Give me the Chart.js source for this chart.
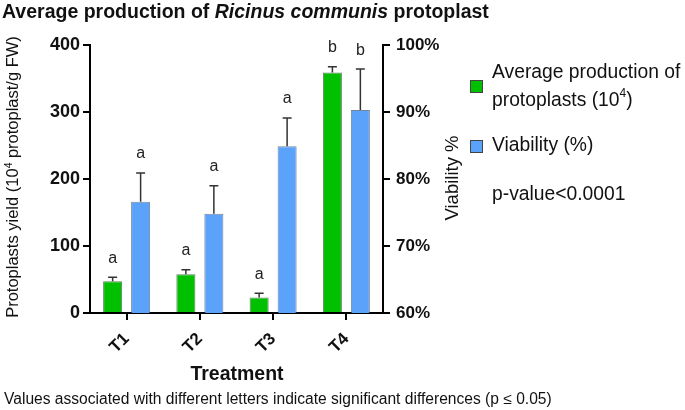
<!DOCTYPE html>
<html>
<head>
<meta charset="utf-8">
<script src="https://cdn.jsdelivr.net/npm/chart.js@4.4.1/dist/chart.umd.min.js"></script>
<style>
html,body{margin:0;padding:0;background:#fff;}
#wrap{width:685px;height:410px;position:relative;}
</style>
</head>
<body>
<div id="wrap"><canvas id="c" width="685" height="410"></canvas></div>
<script>
// ---- data ----
const categories = ['T1', 'T2', 'T3', 'T4'];
const yieldMean = [47.5, 58, 23, 359];
const yieldErr = [6, 6.5, 6.5, 8.5];
const viabilityMean = [76.6, 74.8, 84.9, 90.3];
const viabilityErr = [4.3, 4.2, 4.2, 6.1];
const yieldLetters = ['a', 'a', 'a', 'b'];
const viabilityLetters = ['a', 'a', 'a', 'b'];
const yieldTicks = [0, 100, 200, 300, 400];
const viabilityTicks = [60, 70, 80, 90, 100];
const seriesNames = ['Average production of', 'Viability (%)'];

const FONT = '"Liberation Sans", Arial, Helvetica, sans-serif';
const GREEN = '#00C000';
const BLUE = '#5AA2FA';

function drawSupText(ctx, parts, x, y, size, weight) {
  let cx = x;
  for (const [t, sup] of parts) {
    const s = sup ? size * 0.62 : size;
    ctx.font = `${weight} ${s}px ${FONT}`;
    ctx.fillText(t, cx, sup ? y - size * 0.38 : y);
    cx += ctx.measureText(t).width;
  }
  return cx - x;
}
function measureSup(ctx, parts, size, weight) {
  let w = 0;
  for (const [t, sup] of parts) {
    const s = sup ? size * 0.62 : size;
    ctx.font = `${weight} ${s}px ${FONT}`;
    w += ctx.measureText(t).width;
  }
  return w;
}

const extras = {
  id: 'extras',
  afterDatasetsDraw(chart) {
    const ctx = chart.ctx;
    const errs = [yieldErr, viabilityErr];
    const means = [yieldMean, viabilityMean];
    const letters = [yieldLetters, viabilityLetters];
    chart.data.datasets.forEach((ds, di) => {
      const meta = chart.getDatasetMeta(di);
      const sc = chart.scales[ds.yAxisID];
      meta.data.forEach((el, i) => {
        const top = sc.getPixelForValue(means[di][i] + errs[di][i]);
        ctx.save();
        ctx.strokeStyle = '#333';
        ctx.lineWidth = 1.5;
        ctx.beginPath();
        ctx.moveTo(el.x, el.y);
        ctx.lineTo(el.x, top);
        ctx.moveTo(el.x - 4.5, top);
        ctx.lineTo(el.x + 4.5, top);
        ctx.stroke();
        ctx.fillStyle = '#222';
        ctx.font = `16px ${FONT}`;
        ctx.textAlign = 'center';
        ctx.textBaseline = 'middle';
        ctx.fillText(letters[di][i], el.x, top - 19);
        ctx.restore();
      });
    });
  },
  afterDraw(chart) {
    const ctx = chart.ctx;
    ctx.save();
    ctx.fillStyle = '#111';
    ctx.textBaseline = 'alphabetic';
    ctx.textAlign = 'left';
    // title
    let x = 2;
    const ty = 18;
    ctx.font = `bold 19.5px ${FONT}`;
    ctx.fillText('Average production of ', x, ty);
    x += ctx.measureText('Average production of ').width;
    ctx.font = `italic bold 19.5px ${FONT}`;
    ctx.fillText('Ricinus communis', x, ty);
    x += ctx.measureText('Ricinus communis').width;
    ctx.font = `bold 19.5px ${FONT}`;
    ctx.fillText(' protoplast', x, ty);

    // left axis title
    const lparts = [['Protoplasts yield (10', false], ['4', true], [' protoplast/g FW)', false]];
    const lw = measureSup(ctx, lparts, 16.5, 'normal');
    ctx.save();
    ctx.translate(18, 177);
    ctx.rotate(-Math.PI / 2);
    drawSupText(ctx, lparts, -lw / 2, 0, 16.5, 'normal');
    ctx.restore();

    // right axis title
    ctx.save();
    ctx.translate(458, 178);
    ctx.rotate(-Math.PI / 2);
    ctx.font = `18.5px ${FONT}`;
    ctx.textAlign = 'center';
    ctx.fillText('Viability %', 0, 0);
    ctx.restore();

    // x axis title
    ctx.font = `bold 19.5px ${FONT}`;
    ctx.textAlign = 'center';
    ctx.fillText('Treatment', 237, 380);

    // footer
    ctx.font = `15.6px ${FONT}`;
    ctx.textAlign = 'left';
    ctx.fillText('Values associated with different letters indicate significant differences (p \u2264 0.05)', 4, 404);

    // legend
    ctx.lineWidth = 1;
    ctx.fillStyle = GREEN;
    ctx.fillRect(470, 80, 13, 13);
    ctx.strokeStyle = '#444';
    ctx.strokeRect(470.5, 80.5, 12, 12);
    ctx.fillStyle = BLUE;
    ctx.fillRect(470, 140, 13, 13);
    ctx.strokeRect(470.5, 140.5, 12, 12);
    ctx.fillStyle = '#111';
    ctx.textBaseline = 'middle';
    ctx.font = `19.3px ${FONT}`;
    ctx.fillText(seriesNames[0], 492, 73);
    drawSupText(ctx, [['protoplasts (10', false], ['4', true], [')', false]], 492, 101, 19.3, 'normal');
    ctx.font = `19.3px ${FONT}`;
    ctx.fillText(seriesNames[1], 492, 146);
    ctx.fillText('p-value<0.0001', 492, 195);
    ctx.restore();
  }
};

new Chart(document.getElementById('c'), {
  type: 'bar',
  data: {
    labels: categories,
    datasets: [
      {
        label: seriesNames[0],
        data: yieldMean,
        yAxisID: 'y',
        backgroundColor: GREEN,
        borderColor: 'rgba(60,90,60,0.8)',
        borderWidth: 1,
        categoryPercentage: 0.764,
        barPercentage: 0.68
      },
      {
        label: seriesNames[1],
        data: viabilityMean,
        yAxisID: 'y2',
        backgroundColor: BLUE,
        borderColor: 'rgba(80,100,130,0.8)',
        borderWidth: 1,
        categoryPercentage: 0.764,
        barPercentage: 0.68
      }
    ]
  },
  options: {
    responsive: false,
    animation: false,
    layout: { padding: { top: 45, left: 0, right: 0, bottom: 0 } },
    plugins: { legend: { display: false }, tooltip: { enabled: false }, title: { display: false } },
    scales: {
      x: {
        type: 'category',
        offset: true,
        grid: { display: true, drawOnChartArea: false, drawTicks: true, tickLength: 7, color: '#000', lineWidth: 2, offset: false },
        border: { display: true, color: '#000', width: 2 },
        ticks: { color: '#111', font: { family: FONT, size: 17, weight: 'bold' }, minRotation: 45, maxRotation: 45, padding: 9 },
        afterFit(s) { s.height = 97; }
      },
      y: {
        position: 'left',
        min: 0, max: 400,
        afterBuildTicks(s) { s.ticks = yieldTicks.map(v => ({ value: v })); },
        grid: { display: true, drawOnChartArea: false, drawTicks: true, tickLength: 7, color: '#000', lineWidth: 2 },
        border: { display: true, color: '#000', width: 2 },
        ticks: { color: '#111', font: { family: FONT, size: 18, weight: 'bold' }, padding: 3 },
        afterFit(s) { s.width = 90; }
      },
      y2: {
        position: 'right',
        min: 60, max: 100,
        afterBuildTicks(s) { s.ticks = viabilityTicks.map(v => ({ value: v })); },
        grid: { display: true, drawOnChartArea: false, drawTicks: true, tickLength: 7, color: '#000', lineWidth: 2 },
        border: { display: true, color: '#000', width: 2 },
        ticks: { color: '#111', font: { family: FONT, size: 17, weight: 'bold' }, padding: 6, callback: v => v + '%' },
        afterFit(s) { s.width = 302; }
      }
    }
  },
  plugins: [extras]
});
</script>
</body>
</html>
